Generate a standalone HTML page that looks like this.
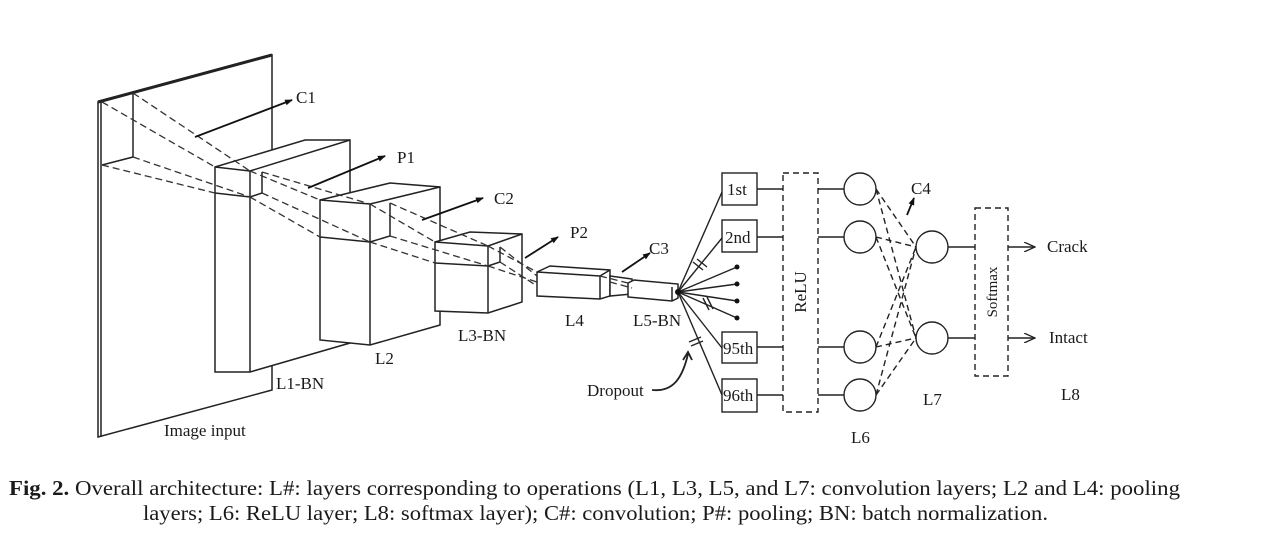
<!DOCTYPE html>
<html><head><meta charset="utf-8"><style>
html,body{margin:0;padding:0;background:#fff;width:1262px;height:547px;overflow:hidden}
svg{display:block}
text{font-family:"Liberation Serif",serif;fill:#1a1a1a}
</style></head><body>
<svg width="1262" height="547" viewBox="0 0 1262 547" xmlns="http://www.w3.org/2000/svg">
<defs>
<marker id="ah" markerWidth="8" markerHeight="8" refX="7" refY="4" orient="auto" markerUnits="userSpaceOnUse"><path d="M0,1 L8,4 L0,7 Z" fill="#111"/></marker>
<marker id="oa" markerWidth="12" markerHeight="10" refX="11" refY="5" orient="auto" markerUnits="userSpaceOnUse"><path d="M0,0 L11,5 L0,10" fill="none" stroke="#222" stroke-width="1.3"/></marker>
</defs>
<g stroke="#222" stroke-width="1.5" fill="#fff">
<polygon points="98,102 272,55 272,390 98,437"/>
<line x1="101" y1="102" x2="101" y2="437"/>
<line x1="98" y1="102" x2="272" y2="55" stroke-width="3"/>
<line x1="133" y1="93" x2="133" y2="157"/>
<line x1="102" y1="165" x2="133" y2="157"/>
<polygon points="215,167 305,140 350,140 350,343 250,372 215,372" />
<line x1="250" y1="171" x2="350" y2="140"/>
<line x1="215" y1="167" x2="250" y2="171"/>
<line x1="250" y1="171" x2="250" y2="372"/>
<line x1="215" y1="193" x2="250" y2="197"/>
<polyline points="250,197 262,193 262,172" fill="none"/>
<polygon points="320,200 390,183 440,187 440,325 370,345 320,340"/>
<line x1="320" y1="200" x2="370" y2="204"/>
<line x1="370" y1="204" x2="440" y2="187"/>
<line x1="370" y1="204" x2="370" y2="345"/>
<line x1="320" y1="237" x2="370" y2="242"/>
<polyline points="370,242 390,236 390,203" fill="none"/>
<polygon points="435,242 470,232 522,234 522,302 488,313 435,311"/>
<line x1="435" y1="242" x2="488" y2="246"/>
<line x1="488" y1="246" x2="522" y2="234"/>
<line x1="488" y1="246" x2="488" y2="313"/>
<line x1="435" y1="263" x2="488" y2="266"/>
<polyline points="488,266 500,262 500,247" fill="none"/>
<polygon points="537,272 550,266 610,270 610,296 600,299 537,296"/>
<line x1="537" y1="272" x2="600" y2="276"/>
<line x1="600" y1="276" x2="610" y2="270"/>
<line x1="600" y1="276" x2="600" y2="299"/>
<polygon points="610,276 632,279 632,294 610,296"/>
<polygon points="628,283 634,280 678,284 678,298 672,301 628,297"/>
<line x1="672" y1="287" x2="672" y2="301"/>
</g>
<g stroke="#333" stroke-width="1.3" stroke-dasharray="7,4" fill="none">
<line x1="102" y1="102" x2="215" y2="167"/>
<line x1="133" y1="93" x2="250" y2="171"/>
<line x1="102" y1="165" x2="215" y2="193"/>
<line x1="133" y1="157" x2="250" y2="197"/>
<line x1="250" y1="171" x2="320" y2="200"/>
<line x1="262" y1="172" x2="370" y2="204"/>
<line x1="250" y1="197" x2="320" y2="237"/>
<line x1="262" y1="193" x2="370" y2="242"/>
<line x1="370" y1="204" x2="435" y2="242"/>
<line x1="390" y1="203" x2="488" y2="246"/>
<line x1="370" y1="242" x2="435" y2="263"/>
<line x1="390" y1="236" x2="488" y2="266"/>
<line x1="488" y1="246" x2="537" y2="272"/>
<line x1="500" y1="247" x2="537" y2="276"/>
<line x1="488" y1="266" x2="537" y2="282"/>
<line x1="500" y1="262" x2="537" y2="286"/>
<line x1="600" y1="276" x2="628" y2="283"/>
<line x1="610" y1="282" x2="632" y2="288"/>
</g>
<g stroke="#111" stroke-width="1.8" marker-end="url(#ah)">
<line x1="195" y1="137" x2="292" y2="100"/>
<line x1="308" y1="188" x2="385" y2="156"/>
<line x1="422" y1="220" x2="483" y2="198"/>
<line x1="525" y1="258" x2="558" y2="237"/>
<line x1="622" y1="272" x2="650" y2="253"/>
<line x1="907" y1="215" x2="914" y2="198"/>
</g>
<g stroke="#222" stroke-width="1.4" fill="none">
<line x1="678" y1="292" x2="722" y2="192"/>
<line x1="678" y1="292" x2="722" y2="238"/>
<line x1="678" y1="292" x2="737" y2="267"/>
<line x1="678" y1="292" x2="737" y2="284"/>
<line x1="678" y1="292" x2="737" y2="301"/>
<line x1="678" y1="292" x2="737" y2="318"/>
<line x1="678" y1="292" x2="722" y2="348"/>
<line x1="678" y1="292" x2="722" y2="395"/>
<line x1="693" y1="262" x2="703" y2="270"/><line x1="697" y1="259" x2="707" y2="267"/>
<line x1="703" y1="298" x2="709" y2="310"/><line x1="707" y1="297" x2="713" y2="309"/>
<line x1="689" y1="342" x2="701" y2="337"/><line x1="691" y1="346" x2="703" y2="341"/>
<path d="M652,390 C672,392 682,380 688,354" stroke-width="1.8"/>
<path d="M683,360 L688,352 L692,360" stroke-width="1.8"/>
<rect x="722" y="173" width="35" height="32" fill="#fff"/>
<rect x="722" y="220" width="35" height="32" fill="#fff"/>
<rect x="722" y="332" width="35" height="31" fill="#fff"/>
<rect x="722" y="379" width="35" height="33" fill="#fff"/>
<line x1="757" y1="189" x2="783" y2="189"/>
<line x1="757" y1="237" x2="783" y2="237"/>
<line x1="757" y1="347" x2="783" y2="347"/>
<line x1="757" y1="395" x2="783" y2="395"/>
<rect x="783" y="173" width="35" height="239" stroke-dasharray="6,4"/>
<line x1="818" y1="189" x2="844" y2="189"/>
<line x1="818" y1="237" x2="844" y2="237"/>
<line x1="818" y1="347" x2="844" y2="347"/>
<line x1="818" y1="395" x2="844" y2="395"/>
<g stroke-dasharray="6,4">
<line x1="876" y1="189" x2="916" y2="247"/><line x1="876" y1="189" x2="916" y2="338"/>
<line x1="876" y1="237" x2="916" y2="247"/><line x1="876" y1="237" x2="916" y2="338"/>
<line x1="876" y1="347" x2="916" y2="247"/><line x1="876" y1="347" x2="916" y2="338"/>
<line x1="876" y1="395" x2="916" y2="247"/><line x1="876" y1="395" x2="916" y2="338"/>
</g>
<circle cx="860" cy="189" r="16" fill="#fff"/>
<circle cx="860" cy="237" r="16" fill="#fff"/>
<circle cx="860" cy="347" r="16" fill="#fff"/>
<circle cx="860" cy="395" r="16" fill="#fff"/>
<circle cx="932" cy="247" r="16" fill="#fff"/>
<circle cx="932" cy="338" r="16" fill="#fff"/>
<line x1="948" y1="247" x2="975" y2="247"/>
<line x1="948" y1="338" x2="975" y2="338"/>
<rect x="975" y="208" width="33" height="168" stroke-dasharray="6,4"/>
<line x1="1008" y1="247" x2="1035" y2="247" marker-end="url(#oa)"/>
<line x1="1008" y1="338" x2="1035" y2="338" marker-end="url(#oa)"/>
</g>
<g fill="#111">
<circle cx="678" cy="292" r="3"/>
<circle cx="737" cy="267" r="2.5"/><circle cx="737" cy="284" r="2.5"/>
<circle cx="737" cy="301" r="2.5"/><circle cx="737" cy="318" r="2.5"/>
</g>
<g font-size="17">
<text x="296" y="103">C1</text>
<text x="397" y="163">P1</text>
<text x="494" y="204">C2</text>
<text x="570" y="238">P2</text>
<text x="649" y="254">C3</text>
<text x="911" y="194">C4</text>
<text x="276" y="389">L1-BN</text>
<text x="375" y="364">L2</text>
<text x="458" y="341">L3-BN</text>
<text x="565" y="326">L4</text>
<text x="633" y="326">L5-BN</text>
<text x="164" y="436">Image input</text>
<text x="587" y="396">Dropout</text>
<text x="727" y="195">1st</text>
<text x="725" y="243">2nd</text>
<text x="723" y="354">95th</text>
<text x="723" y="401">96th</text>
<text transform="translate(806,292) rotate(-90)" text-anchor="middle">ReLU</text>
<text transform="translate(997,292) rotate(-90)" text-anchor="middle" font-size="15">Softmax</text>
<text x="1047" y="252">Crack</text>
<text x="1049" y="343">Intact</text>
<text x="851" y="443">L6</text>
<text x="923" y="405">L7</text>
<text x="1061" y="400">L8</text>
</g>
<text x="9" y="495" font-size="21" textLength="1171" lengthAdjust="spacingAndGlyphs"><tspan font-weight="bold">Fig. 2.</tspan>  Overall architecture: L#: layers corresponding to operations (L1, L3, L5, and L7: convolution layers; L2 and L4: pooling</text>
<text x="143" y="520" font-size="21" textLength="905" lengthAdjust="spacingAndGlyphs">layers; L6: ReLU layer; L8: softmax layer); C#: convolution; P#: pooling; BN: batch normalization.</text>
</svg>
</body></html>
